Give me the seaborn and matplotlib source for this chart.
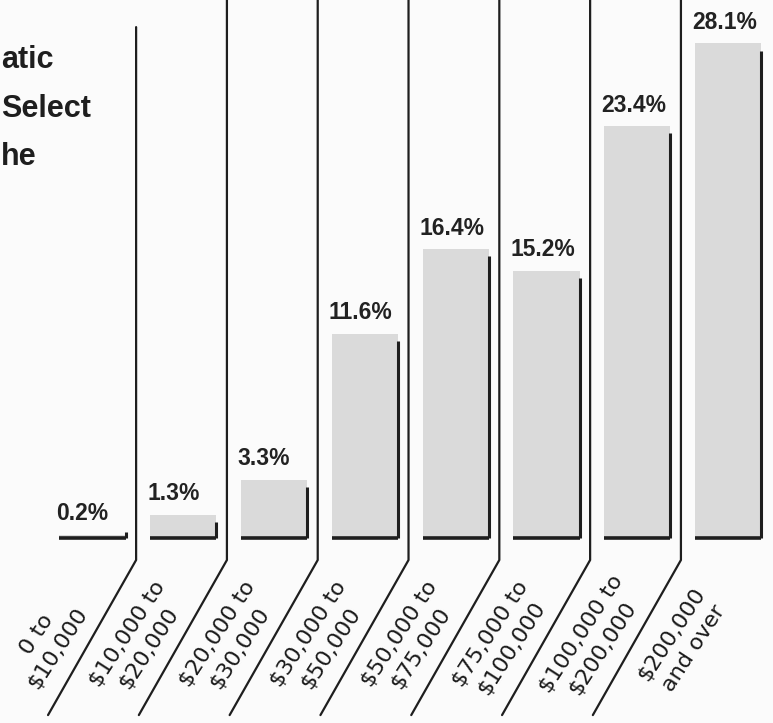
import numpy as np
import pandas as pd
import matplotlib
matplotlib.use("Agg")
import matplotlib.pyplot as plt
import seaborn as sns

# ==========================================
# DATA
# ==========================================
categories = ["0 to\n$10,000", "$10,000 to\n$20,000", "$20,000 to\n$30,000",
              "$30,000 to\n$50,000", "$50,000 to\n$75,000", "$75,000 to\n$100,000",
              "$100,000 to\n$200,000", "$200,000\nand over"]
shares = [0.2, 1.3, 3.3, 11.6, 16.4, 15.2, 23.4, 28.1]
value_labels = ["0.2%", "1.3%", "3.3%", "11.6%", "16.4%", "15.2%", "23.4%", "28.1%"]
title_bits = ["atic", "Select", "he"]

df = pd.DataFrame({"bracket": categories, "share": shares})

# ==========================================
# PLOT
# ==========================================
sns.set_style("white")
plt.rcParams["font.family"] = ["DejaVu Sans"]

bg = "#fbfbfb"
ink = "#1e1e1e"
fig = plt.figure(figsize=(7.73, 7.23), dpi=100, facecolor=bg)
ax = fig.add_axes([0, 0, 1, 1])
ax.set_facecolor(bg)

bar_w = 0.73
sns.barplot(data=df, x="bracket", y="share", color="#dadada", width=bar_w,
            saturation=1, edgecolor="none", ax=ax)

ax.set_xlim(-1.019, 7.494)
ax.set_ylim(-10.51, 30.57)
ax.axis("off")

for i, v in enumerate(shares):
    # shadow edges: bottom and right side
    ax.plot([i - bar_w / 2, i + bar_w / 2], [0, 0], color=ink, lw=2.6,
            solid_capstyle="butt")
    ax.plot([i + bar_w / 2, i + bar_w / 2], [0, max(v - 0.4, 0.35)], color=ink,
            lw=2.2, solid_capstyle="butt")
    ax.text(i - 0.40, v + 0.55, value_labels[i], ha="left", va="bottom",
            fontsize=16.5, fontweight="bold", color="#222222",
            family=["Liberation Sans", "DejaVu Sans"])
    ax.text(i - 0.50, -5.85, categories[i], ha="center", va="center",
            rotation=57, rotation_mode="anchor", fontsize=16, color="#1a1a1a",
            linespacing=1.35)

# dividers: vertical, then slanting down-left under the labels
for k in range(7):
    x0 = k + 0.48
    top = 29.03 if k == 0 else 30.57
    ax.plot([x0, x0, x0 - 0.97], [top, -1.25, -10.06], color=ink, lw=1.6)

# cropped title on the left edge
for txt, yb in zip(title_bits, [68, 117, 165]):
    fig.text(1 / 773, 1 - yb / 723, txt, ha="left", va="baseline",
             fontsize=22, fontweight="heavy", color="#1e1e1e",
             family=["Liberation Sans", "DejaVu Sans"])

plt.savefig("out.png", dpi=100, facecolor=bg)
